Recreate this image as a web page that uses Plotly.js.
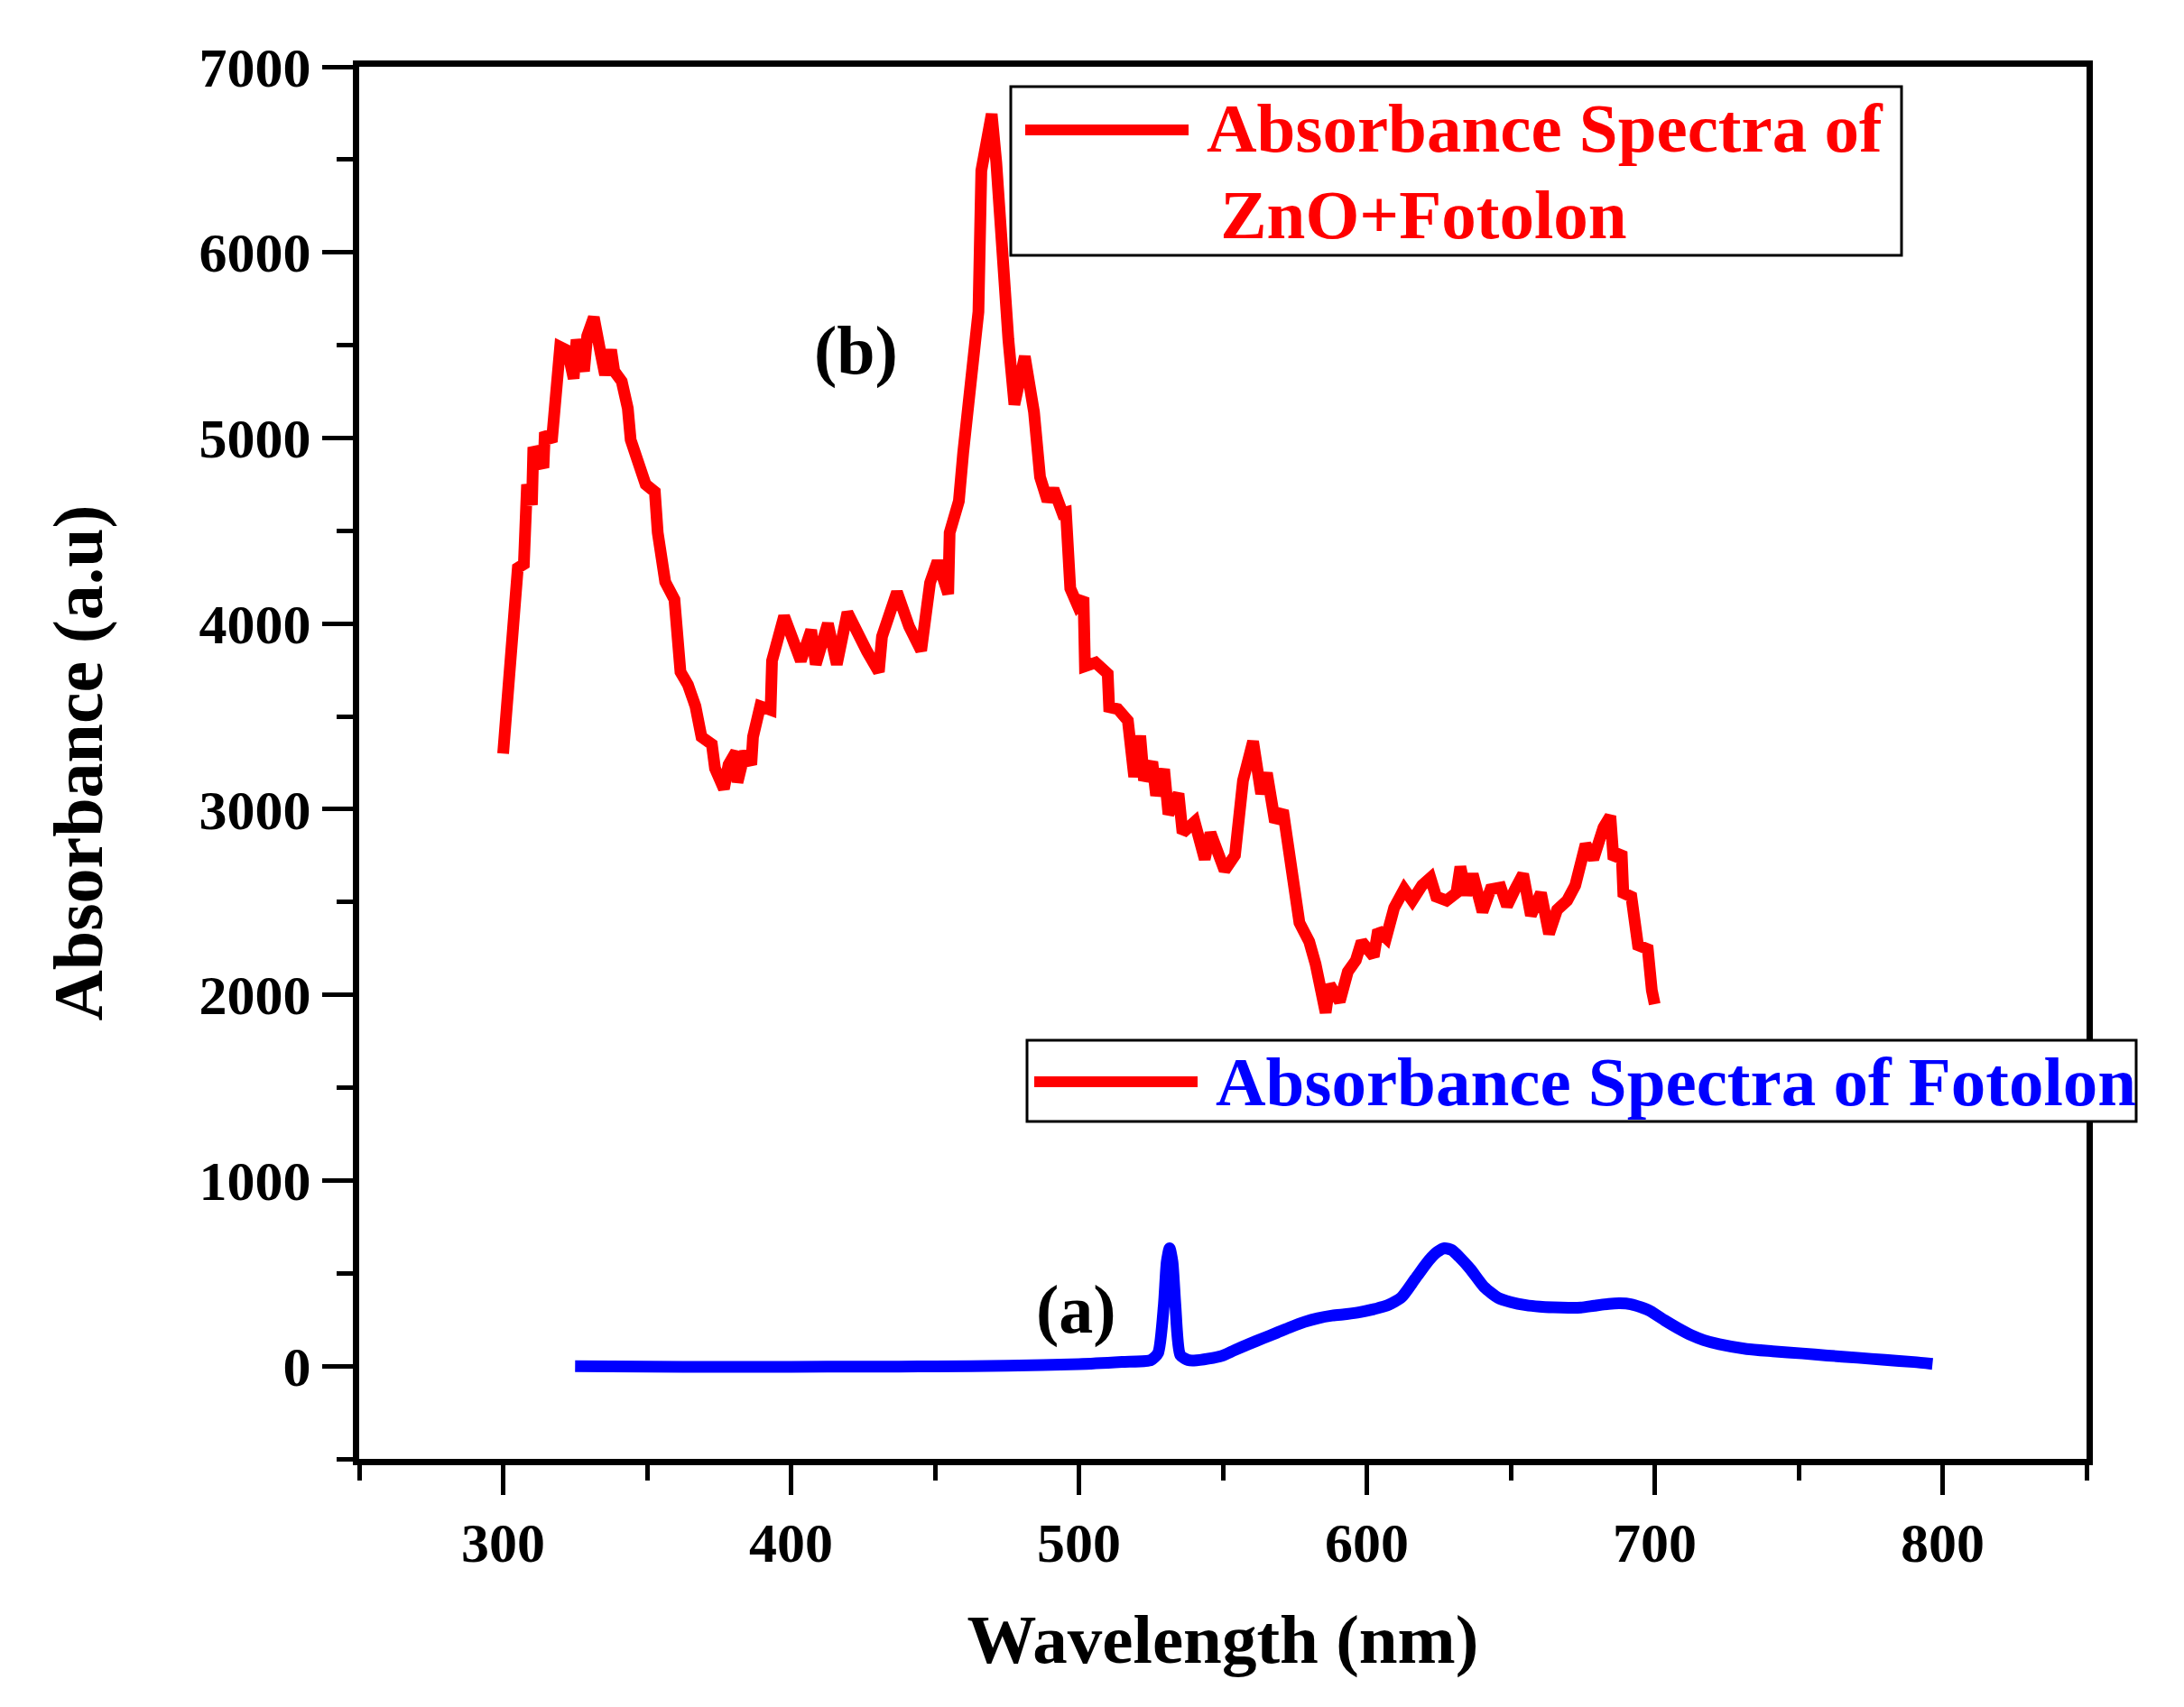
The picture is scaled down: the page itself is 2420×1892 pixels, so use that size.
<!DOCTYPE html>
<html>
<head>
<meta charset="utf-8">
<script src="https://cdn.plot.ly/plotly-3.0.1.min.js"></script>
<style>html,body{margin:0;padding:0;background:#fff;}</style>
</head>
<body>
<div id="chart" style="width:2420px;height:1892px;"></div>
<script>
// ---- Data ----
const znoWavelength = [300,302.5,304.6,305.1,307.2,308.3,310,310.5,314,314.5,316.9,317.7,319.8,322.4,324.5,325.5,328.1,329.2,331.5,333.9,335.4,337.5,338.6,341.2,343.3,344.3,346.9,349.5,352.7,353.7,356.3,359.5,361.6,364.2,366.8,368.9,372.5,373.6,376.7,378.3,380.9,381.4,384,386.2,386.8,389.3,392.9,393.4,397.6,400.2,403.4,407,408.6,412.8,415.9,419.6,424.3,426.4,430.5,431.6,436.8,441,445.2,448.3,450.9,454.6,455.1,458.3,459.8,462.4,465.1,466.1,468.2,469.7,471.3,473.4,475.5,477.6,481.2,484.4,486.5,489.1,491.2,494.3,495.5,497,499.5,501.6,502.1,505.8,510,510.5,513.5,517,519.2,521.3,522.6,525.5,526.8,529.6,531.1,534.6,536,540.2,543.7,545.7,547.9,550.6,554.2,557,560.5,563.3,565.3,568.1,570.9,573.8,576.6,580,582.2,585.7,587.1,590.6,593.4,596.2,598.2,602.4,603.9,606.7,609.5,613,615.8,619.2,622.1,624.1,627.7,631.1,632.5,634.6,636.8,640.2,643,646.5,648.7,651.5,654.3,657,660.5,663.3,666.1,669.6,672.4,676,678.7,682.2,684.6,685.7,688.5,689.1,691.9,694.2,697.6,699,700];
const znoAbsorbance = [3300,3760,4040,4300,4320,4750,4640,4950,4840,5030,4980,5140,5490,5470,5320,5530,5360,5550,5650,5455,5340,5475,5360,5305,5160,4990,4860,4750,4710,4490,4225,4130,3740,3670,3555,3390,3350,3220,3110,3240,3310,3145,3310,3240,3390,3555,3535,3800,4040,3910,3800,3965,3780,4000,3780,4060,3890,3850,3740,3930,4170,3985,3855,4220,4336,4160,4490,4660,4920,5355,5680,6440,6615,6745,6485,5965,5530,5180,5440,5140,4790,4660,4725,4595,4600,4190,4100,4140,3770,3790,3730,3550,3540,3477,3175,3396,3155,3255,3074,3215,2973,3084,2873,2932,2731,2873,2791,2670,2752,3155,3366,3084,3195,2932,2993,2670,2388,2287,2166,1904,2055,1964,2125,2186,2287,2207,2348,2307,2469,2569,2508,2590,2630,2529,2508,2549,2690,2539,2650,2448,2569,2579,2479,2569,2650,2428,2549,2329,2458,2508,2590,2811,2731,2902,2963,2731,2771,2549,2529,2267,2246,2025,1950];

const fotolonWavelength = [325,350,375,400,425,450,475,500,515,525,527.5,529.5,530.5,531.5,532.5,533.5,535.2,538,540,545,549.6,554,559.2,564,568.8,573.5,578.4,583,588,593,597.6,602,607.2,612,616.8,621.6,624.5,627,629.5,632,636,640.8,645.6,650,655.3,660,664.8,670,674.4,679,684,688,691.7,695,698.5,703.3,708,712.9,717,722.4,732,741,751.3,760,770.4,780,790,796.5];
const fotolonAbsorbance = [0,-3,-4,-4,-3,-2,2,10,22,32,70,330,560,635,560,330,60,32,30,40,55,85,120,150,180,210,238,258,272,280,290,305,327,370,470,570,615,635,625,590,522,425,368,345,328,320,316,314,315,325,335,338,333,318,296,248,205,165,140,118,92,80,68,57,45,33,22,12];

const legendTexts = ["Absorbance Spectra of", " ZnO+Fotolon", "Absorbance Spectra of Fotolon"];
const curveLabels = ["(b)", "(a)"];
const xTitle = "Wavelength (nm)";
const yTitle = "Absorbance (a.u)";

// ---- Layout helpers (pixel -> paper) ----
const W = 2420, H = 1892;
const L = 398, R = 2312, T = 74, B = 1617;
const px = X => (X - L) / (R - L);
const py = Y => (B - Y) / (B - T);

const FONT = "Liberation Serif, Times New Roman, serif";
const RED = "#ff0000", BLUE = "#0000ff";

const traces = [
  {x: znoWavelength, y: znoAbsorbance, type: "scatter", mode: "lines",
   line: {color: RED, width: 13}, showlegend: false, name: "ZnO+Fotolon"},
  {x: fotolonWavelength, y: fotolonAbsorbance, type: "scatter", mode: "lines",
   line: {color: BLUE, width: 13, shape: "spline", smoothing: 0.6}, showlegend: false, name: "Fotolon"}
];

const axisCommon = {
  showline: true, linecolor: "#000", linewidth: 7, mirror: true,
  showgrid: false, zeroline: false,
  ticks: "outside", tickcolor: "#000", tickwidth: 5,
  tickfont: {family: FONT, size: 62, color: "#000", weight: "bold"}
};

const layout = {
  width: W, height: H,
  margin: {l: L, r: W - R, t: T, b: H - B, pad: 0},
  paper_bgcolor: "#fff", plot_bgcolor: "#fff",
  showlegend: false,
  xaxis: Object.assign({}, axisCommon, {
    range: [250, 850], tick0: 0, dtick: 100, ticklen: 33,
    minor: {dtick: 50, ticks: "outside", ticklen: 17, tickwidth: 5, tickcolor: "#000", showgrid: false},
    title: {text: xTitle, font: {family: FONT, size: 77, color: "#000", weight: "bold"}, standoff: 48}
  }),
  yaxis: Object.assign({}, axisCommon, {
    range: [-500, 7000], tick0: 0, dtick: 1000, ticklen: 34,
    minor: {dtick: 500, ticks: "outside", ticklen: 18, tickwidth: 5, tickcolor: "#000", showgrid: false},
    title: {text: yTitle, font: {family: FONT, size: 78, color: "#000", weight: "bold"}, standoff: 84}
  }),
  shapes: [
    {type: "rect", xref: "paper", yref: "paper", layer: "above",
     x0: px(1120), x1: px(2107), y0: py(283), y1: py(96),
     line: {color: "#000", width: 3}, fillcolor: "#fff"},
    {type: "line", xref: "paper", yref: "paper", layer: "above",
     x0: px(1136), x1: px(1317), y0: py(144), y1: py(144),
     line: {color: RED, width: 12}},
    {type: "rect", xref: "paper", yref: "paper", layer: "above",
     x0: px(1138), x1: px(2367), y0: py(1243), y1: py(1153),
     line: {color: "#000", width: 3}, fillcolor: "#fff"},
    {type: "line", xref: "paper", yref: "paper", layer: "above",
     x0: px(1146), x1: px(1327), y0: py(1199), y1: py(1199),
     line: {color: RED, width: 12}}
  ],
  annotations: [
    {text: legendTexts[0], xref: "paper", yref: "paper", x: px(1335), y: py(142), xanchor: "left", yanchor: "middle",
     showarrow: false, font: {family: FONT, size: 77, color: RED, weight: "bold"}},
    {text: legendTexts[1], xref: "paper", yref: "paper", x: px(1331), y: py(238), xanchor: "left", yanchor: "middle",
     showarrow: false, font: {family: FONT, size: 77, color: RED, weight: "bold"}},
    {text: legendTexts[2], xref: "paper", yref: "paper", x: px(1345), y: py(1199), xanchor: "left", yanchor: "middle",
     showarrow: false, font: {family: FONT, size: 77, color: BLUE, weight: "bold"}},
    {text: curveLabels[0], xref: "paper", yref: "paper", x: px(948), y: py(388), xanchor: "center", yanchor: "middle",
     showarrow: false, font: {family: FONT, size: 76, color: "#000", weight: "bold"}},
    {text: curveLabels[1], xref: "paper", yref: "paper", x: px(1192), y: py(1451), xanchor: "center", yanchor: "middle",
     showarrow: false, font: {family: FONT, size: 76, color: "#000", weight: "bold"}}
  ]
};

Plotly.newPlot("chart", traces, layout, {displayModeBar: false, responsive: false});
</script>
</body>
</html>
